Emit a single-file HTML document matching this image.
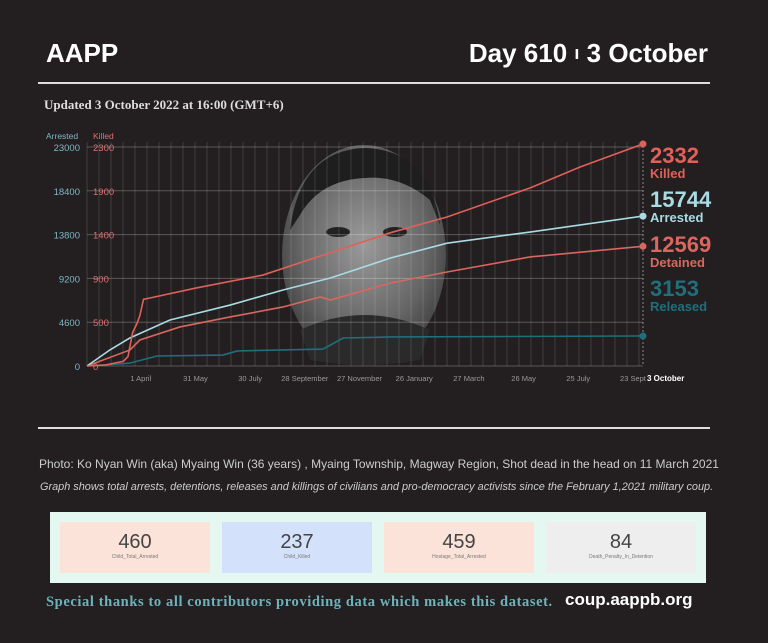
<!DOCTYPE html>
<html><head><meta charset="utf-8"><style>
html,body{margin:0;padding:0;background:#231f20;}
body{width:768px;height:643px;position:relative;overflow:hidden;font-family:"Liberation Sans",sans-serif;}
.abs{position:absolute;}
</style></head><body>
<div class="abs" style="left:46px;top:38px;color:#fff;font-weight:bold;font-size:26px;">AAPP</div>
<div class="abs" style="right:60px;top:38px;color:#fff;font-weight:bold;font-size:26px;">Day 610 <span style="font-size:18px;position:relative;top:-3px">ı</span> 3 October</div>
<div class="abs" style="left:38px;top:82px;width:672px;height:2px;background:#ddd;"></div>
<div class="abs" style="left:44px;top:97px;color:#ddd;font-family:'Liberation Serif',serif;font-weight:bold;font-size:13px;">Updated 3 October 2022 at 16:00 (GMT+6)</div>

<svg class="abs" style="left:0;top:0" width="768" height="430" id="chart">
<defs>
<radialGradient id="pg" cx="50%" cy="45%" r="55%"><stop offset="0" stop-color="#9a9a9a"/><stop offset="0.7" stop-color="#666"/><stop offset="1" stop-color="#444"/></radialGradient>
</defs>
<g id="photo">
<ellipse cx="364" cy="255" rx="82" ry="110" fill="url(#pg)"/>
<path d="M290 230 Q300 150 365 148 Q430 150 440 225 L430 200 Q400 175 365 178 Q320 180 300 215Z" fill="#1e1e1e"/>
<ellipse cx="338" cy="232" rx="12" ry="5" fill="#222"/><ellipse cx="395" cy="232" rx="12" ry="5" fill="#222"/>
<path d="M300 330 Q364 300 430 330 L420 360 Q364 370 310 360Z" fill="#2a2a2a"/>
</g>
<g id="grid"></g><g id="axes"></g><g id="series"></g>
</svg>

<div class="abs" style="left:38px;top:427px;width:672px;height:2px;background:#ddd;"></div>
<div class="abs" style="left:39px;top:457px;color:#ccc;font-size:12px;white-space:nowrap;">Photo: Ko Nyan Win (aka) Myaing Win (36 years) , Myaing Township, Magway Region, Shot dead in the head on 11 March 2021</div>
<div class="abs" style="left:40px;top:481px;color:#ccc;font-size:10.9px;font-style:italic;white-space:nowrap;">Graph shows total arrests, detentions, releases and killings of civilians and pro-democracy activists since the February 1,2021 military coup.</div>

<div class="abs" style="left:50px;top:512px;width:656px;height:71px;background:#e4f8f1;">
 <div class="abs" style="left:10px;top:10px;width:150px;height:51px;background:#fce3d9;text-align:center;"><div style="font-size:20px;color:#444;margin-top:9px">460</div><div style="font-size:5px;color:#777">Child_Total_Arrested</div></div>
 <div class="abs" style="left:172px;top:10px;width:150px;height:51px;background:#d3e2fa;text-align:center;"><div style="font-size:20px;color:#444;margin-top:9px">237</div><div style="font-size:5px;color:#777">Child_Killed</div></div>
 <div class="abs" style="left:334px;top:10px;width:150px;height:51px;background:#fce3d9;text-align:center;"><div style="font-size:20px;color:#444;margin-top:9px">459</div><div style="font-size:5px;color:#777">Hostage_Total_Arrested</div></div>
 <div class="abs" style="left:496px;top:10px;width:150px;height:51px;background:#eeeeee;text-align:center;"><div style="font-size:20px;color:#444;margin-top:9px">84</div><div style="font-size:5px;color:#777">Death_Penalty_In_Detention</div></div>
</div>
<div class="abs" style="left:46px;top:594px;color:#6fb2bb;font-family:'Liberation Serif',serif;font-weight:bold;font-size:14.5px;letter-spacing:0.6px;">Special thanks to all contributors providing data which makes this dataset.</div>
<div class="abs" style="left:565px;top:590px;color:#fff;font-weight:bold;font-size:17px;">coup.aappb.org</div>

<script>
const killedDays=[0,20,40,45,50,55,58,62,69,120,193,259,333,395,486,541,610];
const killedVals=[0,10,50,100,350,450,530,700,714,820,955,1165,1400,1565,1870,2090,2332];
const arrestedDays=[0,25,47,91,157,215,267,333,395,486,610];
const arrestedVals=[0,1680,2940,4830,6400,7980,9240,11340,12900,14070,15744];
const detainedDays=[0,47,58,102,157,215,256,267,333,395,486,610];
const detainedVals=[0,1680,2730,4100,5150,6200,7250,6930,8720,9870,11450,12569];
const releasedDays=[0,47,77,149,165,259,281,333,610];
const releasedVals=[0,300,1050,1150,1580,1780,2940,3050,3153];
const arrestedTicks=[0,4600,9200,13800,18400,23000];
const killedTicks=[0,500,900,1400,1900,2300];
const xTickLabels=["1 April","31 May","30 July","28 September","27 November","26 January","27 March","26 May","25 July","23 Sept"];
const xTickDays=[59,119,179,239,299,359,419,479,539,599];
const NS="http://www.w3.org/2000/svg";
const X0=87,X1=643,Y0=366,Y1=147,MAXD=610;
const xs=d=>X0+d/MAXD*(X1-X0);
const ya=v=>Y0-v/23000*(Y0-Y1);
const yk=v=>Y0-v/2300*(Y0-Y1);
function el(t,a,p){const e=document.createElementNS(NS,t);for(const k in a)e.setAttribute(k,a[k]);p.appendChild(e);return e;}
const grid=document.getElementById('grid'),axes=document.getElementById('axes'),ser=document.getElementById('series');
for(let x=X0;x<=X1;x+=12){const l=el('line',{x1:x,x2:x,y1:Y1-5,y2:Y0,stroke:'#fff','stroke-opacity':0.13,'stroke-width':1},grid);

}
el('line',{x1:X1,x2:X1,y1:Y1-5,y2:Y0,stroke:'#888','stroke-dasharray':'2,2'},grid);
arrestedTicks.forEach((v,i)=>{const y=ya(v);
const g=el('line',{x1:X0,x2:X1,y1:y,y2:y,stroke:'#fff','stroke-opacity':0.25},grid);


const t=el('text',{x:80,y:y+4,'text-anchor':'end',fill:'#7fb7c4','font-size':9.5},axes);t.textContent=v;


const k=el('text',{x:93,y:y+4,fill:'#e07070','font-size':9.5},axes);k.textContent=killedTicks[i];

});
let h=el('text',{x:46,y:139,fill:'#7fb7c4','font-size':8.5},axes);h.textContent='Arrested';


h=el('text',{x:93,y:139,fill:'#e07070','font-size':8.5},axes);h.textContent='Killed';


xTickDays.forEach((d,i)=>{const t=el('text',{x:xs(d),y:381,'text-anchor':'middle',fill:'#999','font-size':7.5},axes);t.textContent=xTickLabels[i];

});
h=el('text',{x:xs(MAXD)+4,y:381,fill:'#fff','font-size':8,'font-weight':'bold'},axes);h.textContent='3 October';


function line(days,vals,yf,col,name,lab,sub,ly){
 const pts=days.map((d,i)=>xs(d)+','+yf(vals[i])).join(' ');
 const p=el('polyline',{points:pts,fill:'none',stroke:col,'stroke-width':1.6},ser);
 
 
 const n=days.length-1;
 const c=el('circle',{cx:xs(days[n]),cy:yf(vals[n]),r:3.5,fill:col},ser);
 
 
 const t=el('text',{x:650,y:ly,fill:col,'font-size':22,'font-weight':'bold'},ser);t.textContent=lab;
 
 
 const s=el('text',{x:650,y:ly+15,fill:col,'font-size':13,'font-weight':'bold'},ser);s.textContent=sub;
 
 
}
line(releasedDays,releasedVals,ya,'#1f6f7d','released','3153','Released',296);
line(detainedDays,detainedVals,ya,'#d9675f','detained','12569','Detained',252);
line(arrestedDays,arrestedVals,ya,'#a8dbe4','arrested','15744','Arrested',207);
line(killedDays,killedVals,yk,'#e0605a','killed','2332','Killed',163);
</script>
</body></html>
